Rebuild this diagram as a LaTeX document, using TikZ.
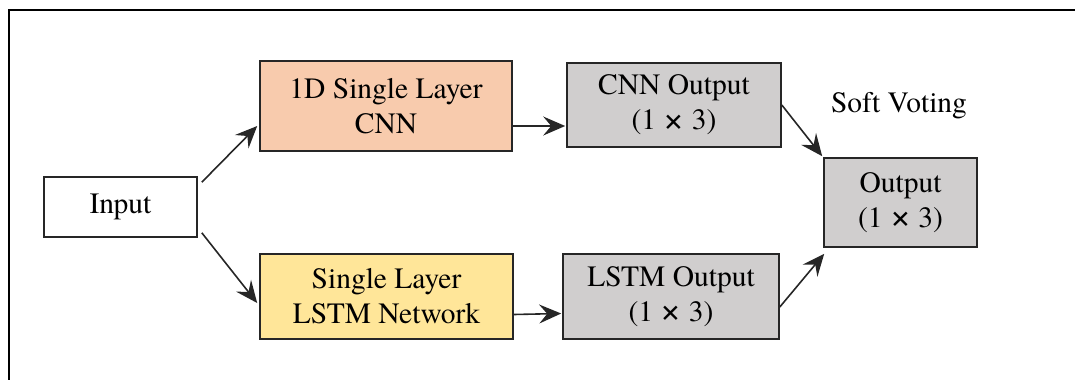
\documentclass[tikz,border=0pt]{standalone}
\usepackage{fontspec}
\usepackage{graphicx}
\setmainfont{texgyretermes}[Extension=.otf, UprightFont=*-regular, BoldFont=*-bold]
\usetikzlibrary{arrows.meta}
\definecolor{cnnfill}{HTML}{F8CBAD}
\definecolor{lstmfill}{HTML}{FFE699}
\definecolor{outfill}{HTML}{D0CECE}
% a slightly larger multiplication sign, kept on the text axis
\newcommand{\bytimes}{\raisebox{-0.05em}{\scalebox{1.25}{×}}}
\tikzset{
  txt/.style={font=\rmfamily\fontsize{29.5}{35}\selectfont},
  blk/.style={txt, draw=black!85, line width=1.6pt, rectangle, align=center,
    inner sep=0pt},
  conn/.style={line width=1.6pt, black!85,
    -{Stealth[length=22pt, width=19pt, inset=8pt]}},
  frame/.style={line width=2pt, black}
}
\begin{document}
\begin{tikzpicture}[x=1pt, y=-1pt]
\useasboundingbox (0,0) rectangle (1075,380);
% page frame
\draw[frame] (1075,10) -- (9,10) -- (9,380);

\node[blk, fill=white, minimum width=153pt, minimum height=60pt] (in) at (120.5,207) {Input};
\node[blk, fill=cnnfill, minimum width=252pt, minimum height=90pt] (cnn) at (386,106) {1D Single Layer\\CNN};
\node[blk, fill=outfill, minimum width=214pt, minimum height=84pt] (cnnout) at (674,105) {CNN Output\\(1 \bytimes{} 3)};
\node[blk, fill=lstmfill, minimum width=253pt, minimum height=85pt] (lstm) at (386.5,296.5) {Single Layer\\LSTM Network};
\node[blk, fill=outfill, minimum width=216pt, minimum height=85pt] (lstmout) at (671,296.5) {LSTM Output\\(1 \bytimes{} 3)};
\node[blk, fill=outfill, minimum width=153pt, minimum height=89pt] (out) at (900.5,202.5) {Output\\(1 \bytimes{} 3)};
\node[txt, inner sep=0pt] (sv) at (899,106) {Soft Voting};

\draw[conn] ([xshift=4pt,yshift=-6pt]in.north east) -- ([xshift=-2pt,yshift=-20pt]cnn.west);
\draw[conn] ([xshift=4pt,yshift=5pt]in.south east) -- ([xshift=-2pt,yshift=-6.5pt]lstm.west);
\draw[conn] ([yshift=-20pt]cnn.east) -- ([xshift=-1pt,yshift=-21pt]cnnout.west);
\draw[conn] ([yshift=-18pt]lstm.east) -- ([xshift=-1pt,yshift=-17pt]lstmout.west);
\draw[conn] (cnnout.east) -- ([xshift=-1pt,yshift=1pt]out.north west);
\draw[conn] ([yshift=-10.5pt]lstmout.east) -- ([xshift=1pt,yshift=-6pt]out.south west);
\end{tikzpicture}
\end{document}
